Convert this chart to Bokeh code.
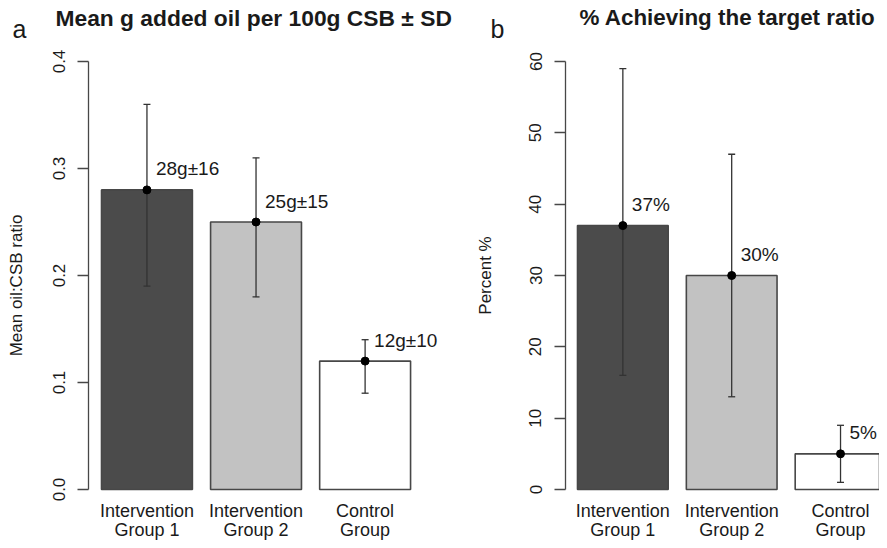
import math
from bokeh.plotting import figure
from bokeh.layouts import row
from bokeh.models import (ColumnDataSource, FixedTicker, PrintfTickFormatter,
                          Whisker, TeeHead, Label, Range1d)
from bokeh.embed import file_html
from bokeh.resources import INLINE
from bokeh.core.properties import value

# ---------------- data ----------------
groups = ["Intervention\nGroup 1", "Intervention\nGroup 2", "Control\nGroup"]
bar_colors = ["#4b4b4b", "#c2c2c2", "#ffffff"]

oil_mean = [0.28, 0.25, 0.12]
oil_lower = [0.19, 0.18, 0.09]
oil_upper = [0.36, 0.31, 0.14]
oil_labels = ["28g±16", "25g±15", "12g±10"]
oil_ticks = [0.0, 0.1, 0.2, 0.3, 0.4]

pct_mean = [37, 30, 5]
pct_lower = [16, 13, 1]
pct_upper = [59, 47, 9]
pct_labels = ["37%", "30%", "5%"]
pct_ticks = [0, 10, 20, 30, 40, 50, 60]

FONT = "Liberation Sans"
TXT = "#1a1a1a"
LINE = "#474747"
WHISK = "#333333"

# barplot layout (bar width 1, space 0.2)
centers = [0.7 + 1.2 * i for i in range(len(groups))]

H = 540                 # canvas height
ZERO_PX = 489           # canvas y of value 0
TOP_PX = 61             # canvas y of top tick


def panel(mean, lo, hi, labels, ticks, fmt, ylabel, title, letter,
          width, px_per_unit, bar_left_px, axis_px, ax_standoff,
          letter_x, title_x, title_size, ylabel_pos=None):
    ymax = ticks[-1]
    ppu_y = (ZERO_PX - TOP_PX) / ymax
    ys = -(H - ZERO_PX) / ppu_y
    ye = ys + H / ppu_y
    xs = 0.2 - bar_left_px / px_per_unit
    xe = xs + width / px_per_unit
    p = figure(width=width, height=H, output_backend="svg", toolbar_location=None,
               x_range=Range1d(xs, xe), y_range=Range1d(ys, ye),
               min_border=0, min_border_left=0, min_border_right=0,
               min_border_top=0, min_border_bottom=0)
    p.outline_line_color = None
    p.grid.visible = False
    p.xaxis.visible = False
    p.background_fill_color = "white"

    src = ColumnDataSource(dict(x=centers, m=mean, lo=lo, hi=hi,
                                lab=labels, c=bar_colors, g=groups))
    p.vbar(x="x", top="m", bottom=0, width=1.0, source=src,
           fill_color="c", line_color=LINE, line_width=1.6)

    w = Whisker(source=src, base="x", upper="hi", lower="lo",
                line_color=WHISK, line_width=1.3, level="annotation",
                upper_head=TeeHead(size=7, line_color=WHISK, line_width=1.3),
                lower_head=TeeHead(size=7, line_color=WHISK, line_width=1.3))
    p.add_layout(w)
    p.scatter("x", "m", source=src, size=8, color="#000000", level="overlay")
    p.text(x="x", y="m", text="lab", source=src, x_offset=9, y_offset=-21,
           text_font=value(FONT), text_font_size="19px", text_color=TXT,
           text_baseline="middle", text_align="left")

    # category labels under the bars
    p.text(x="x", y=0, text="g", source=src, y_offset=11,
           text_font=value(FONT), text_font_size="18px", text_color=TXT,
           text_baseline="top", text_align="center", text_line_height=0.95)

    # y axis at the R plot-region edge
    ya = p.yaxis[0]
    ya.fixed_location = xs + axis_px / px_per_unit
    ya.ticker = FixedTicker(ticks=ticks)
    ya.formatter = PrintfTickFormatter(format=fmt)
    ya.bounds = (ticks[0], ticks[-1])
    ya.axis_line_color = LINE
    ya.axis_line_width = 1.3
    ya.major_tick_line_color = LINE
    ya.major_tick_line_width = 1.3
    ya.major_tick_out = 11
    ya.major_tick_in = 0
    ya.minor_tick_line_color = None
    ya.major_label_orientation = "vertical"
    ya.major_label_standoff = 13
    ya.major_label_text_font = FONT
    ya.major_label_text_font_size = "17px"
    ya.major_label_text_color = TXT
    if ylabel_pos is None:
        ya.axis_label = ylabel
        ya.axis_label_text_font = FONT
        ya.axis_label_text_font_size = "17px"
        ya.axis_label_text_font_style = "normal"
        ya.axis_label_text_color = TXT
        ya.axis_label_standoff = ax_standoff
    else:
        p.add_layout(Label(x=ylabel_pos[0], y=H - ylabel_pos[1],
                           x_units="screen", y_units="screen",
                           text=ylabel, angle=math.pi / 2,
                           text_font=FONT, text_font_size="17px",
                           text_color=TXT, text_align="center",
                           text_baseline="middle"))

    p.add_layout(Label(x=letter_x, y=H - 28, x_units="screen", y_units="screen",
                       text=letter, text_font=FONT, text_font_size="25px",
                       text_color=TXT, text_baseline="alphabetic"))
    p.add_layout(Label(x=title_x, y=H - 17, x_units="screen", y_units="screen",
                       text=title, text_font=FONT, text_font_size=title_size,
                       text_font_style="bold", text_color=TXT,
                       text_baseline="alphabetic"))
    return p


p1 = panel(oil_mean, oil_lower, oil_upper, oil_labels, oil_ticks, "%.1f",
           "Mean oil:CSB ratio", "Mean g added oil per 100g CSB \u00b1 SD", "a",
           width=467, px_per_unit=90.9, bar_left_px=101, axis_px=88,
           ax_standoff=27, letter_x=12, title_x=55, title_size="22.8px",
           ylabel_pos=(16, 285))
p2 = panel(pct_mean, pct_lower, pct_upper, pct_labels, pct_ticks, "%d",
           "Percent %", "% Achieving the target ratio", "b",
           width=412, px_per_unit=90.7, bar_left_px=110, axis_px=98,
           ax_standoff=32, letter_x=23, title_x=112, title_size="22.4px")

layout = row(p1, p2)
open("out.html", "w").write(file_html(layout, INLINE))
